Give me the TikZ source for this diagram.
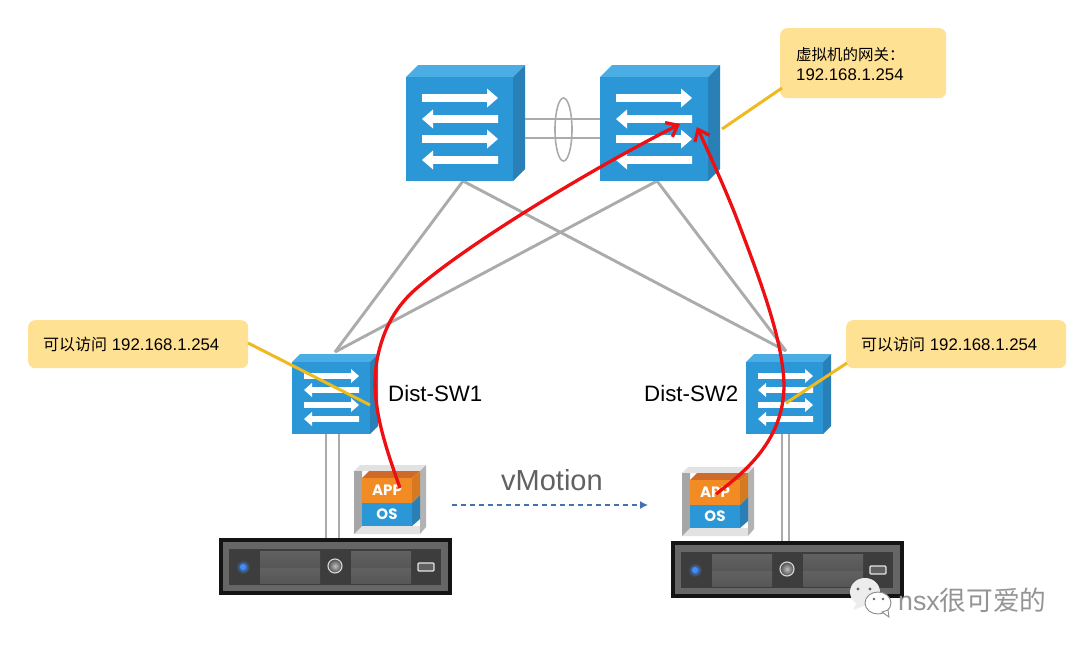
\documentclass[tikz,border=0pt]{standalone}
\usepackage{fontspec}
\setmainfont{Liberation Sans}
\newfontfamily\cjk{Noto Sans CJK SC}
\newfontfamily\vmfont{Poppins}
\usetikzlibrary{arrows.meta,calc,shapes.geometric}
\definecolor{swfront}{HTML}{2B97D6}
\definecolor{swtop}{HTML}{4AAEE4}
\definecolor{swside}{HTML}{2880B6}
\definecolor{linkgray}{HTML}{ABABAB}
\definecolor{calloutfill}{HTML}{FFE193}
\definecolor{calloutline}{HTML}{F0B91E}
\definecolor{flowred}{HTML}{EE0F12}
\definecolor{appfront}{HTML}{F28B24}
\definecolor{apptop}{HTML}{D06A2A}
\definecolor{frameside}{HTML}{A6A6A6}
\definecolor{frametop}{HTML}{E2E2E2}
\definecolor{movedash}{HTML}{4472B0}
\definecolor{ledblue}{HTML}{3F8CFF}
\tikzset{
 link/.style={draw=linkgray,line width=2.9pt},
 callout/.style={fill=calloutfill,rounded corners=7pt,inner sep=0pt,anchor=north west},
 calloutwire/.style={draw=calloutline,line width=3pt},
 flow/.style={draw=flowred,line width=3.3pt,-{Straight Barb[length=10pt,width=16pt,line width=3.3pt]}},
 swface/.style={fill=swfront,inner sep=0pt,outer sep=0pt,anchor=north west},
 lbl/.style={inner sep=0pt,anchor=west,text=black},
 vmtext/.style={inner sep=0pt,text=white,font=\vmfont\bfseries\fontsize{15}{15}\selectfont},
}
% right / left arrows: x1,x2,y,shaft half,head half,head length
\newcommand{\rarrow}[6]{\fill[white] (#1,{#3-#4}) -- ({#2-#6},{#3-#4}) -- ({#2-#6},{#3-#5}) -- (#2,#3) -- ({#2-#6},{#3+#5}) -- ({#2-#6},{#3+#4}) -- (#1,{#3+#4}) -- cycle;}
\newcommand{\larrow}[6]{\fill[white] (#2,{#3-#4}) -- ({#1+#6},{#3-#4}) -- ({#1+#6},{#3-#5}) -- (#1,#3) -- ({#1+#6},{#3+#5}) -- ({#1+#6},{#3+#4}) -- (#2,{#3+#4}) -- cycle;}
% name, x, y, w, h, depth
\newcommand{\switchbox}[6]{
 \fill[swtop] (#2,#3) -- ({#2+#6},{#3-#6}) -- ({#2+#4+#6},{#3-#6}) -- ({#2+#4},#3) -- cycle;
 \fill[swside] ({#2+#4},#3) -- ({#2+#4+#6},{#3-#6}) -- ({#2+#4+#6},{#3+#5-#6}) -- ({#2+#4},{#3+#5}) -- cycle;
 \node[swface,minimum width=#4pt,minimum height=#5pt] (#1) at (#2,#3) {};
}
\newcommand{\serverbox}[3]{% name, x, y
 \node[fill=black!92,inner sep=0pt,outer sep=0pt,anchor=north west,minimum width=233pt,minimum height=57pt] (#1) at (#2,#3) {};
 \begin{scope}[shift={(#2,#3)}]
  \fill[black!60] (4,4) rectangle (229,53);
  \fill[black!76] (10,11) rectangle (222,47);
  \shade[top color=black!62,bottom color=black!66] (41,13) rectangle (101,29);
  \shade[top color=black!62,bottom color=black!66] (41,30) rectangle (101,45);
  \shade[top color=black!62,bottom color=black!66] (132,13) rectangle (192,29);
  \shade[top color=black!62,bottom color=black!66] (132,30) rectangle (192,45);
  \shade[inner color=ledblue,outer color=black!76] (24,29) circle (7);
  \fill[ledblue] (24,29) circle (3);
  \shade[inner color=black!25,outer color=black!70] (116,28) circle (7);
  \draw[black!15,line width=1.1pt] (116,28) circle (7);
  \fill[black!62] (199,25) rectangle (215,33);
  \draw[black!10,line width=1.1pt,rounded corners=1pt] (199,25) rectangle (215,33);
 \end{scope}
}
\newcommand{\vmstack}[3]{% name, x, y of outer top-left
 \begin{scope}[shift={(#2,#3)}]
  \fill[frametop] (0,6) -- (6,0) -- (72,0) -- (66,6) -- (8,6) -- cycle;
  \fill[frametop] (0,69) -- (8,61) -- (66,61) -- (66,69) -- cycle;
  \fill[frameside] (0,6) -- (8,6) -- (8,61) -- (0,69) -- cycle;
  \fill[frameside!85!white] (66,6) -- (72,0) -- (72,62) -- (66,69) -- cycle;
  \fill[apptop] (8,13) -- (15,6) -- (66,6) -- (58,13) -- cycle;
  \fill[appfront!88!black] (58,13) -- (66,6) -- (66,30) -- (58,38) -- cycle;
  \fill[swside] (58,38) -- (66,30) -- (66,54) -- (58,61) -- cycle;
  \node[fill=appfront,inner sep=0pt,outer sep=0pt,anchor=north west,minimum width=50pt,minimum height=25pt] (#1app) at (8,13) {};
  \node[fill=swfront,inner sep=0pt,outer sep=0pt,anchor=north west,minimum width=50pt,minimum height=23pt] (#1os) at (8,38) {};
  \node[vmtext] at (#1app.center) {APP};
  \node[vmtext] at (#1os.center) {OS};
 \end{scope}
}
\begin{document}
\begin{tikzpicture}[x=1pt,y=-1pt]
\useasboundingbox (0,0) rectangle (1080,648);
\fill[white] (0,0) rectangle (1080,648);
% anchors for the connectors
\coordinate (coreLdown) at (463,181);
\coordinate (coreRdown) at (657,181);
\coordinate (dist1up) at (335,352);
\coordinate (dist2up) at (786,351);
% mesh links
\draw[link] (coreLdown) -- (dist1up);
\draw[link] (coreLdown) -- (dist2up);
\draw[link] (coreRdown) -- (dist1up);
\draw[link] (coreRdown) -- (dist2up);
% switches
\switchbox{coreL}{406}{77}{107}{104}{12}
\switchbox{coreR}{600}{77}{108}{104}{12}
\switchbox{distA}{292}{362}{78}{72}{8}
\switchbox{distB}{746}{362}{77}{72}{8}
\foreach \ox in {422,616}{
 \rarrow{\ox}{\ox+76}{98}{3.8}{9.5}{11}
 \larrow{\ox}{\ox+76}{119}{3.8}{9.5}{11}
 \rarrow{\ox}{\ox+76}{139}{3.8}{9.5}{11}
 \larrow{\ox}{\ox+76}{160}{3.8}{9.5}{11}
}
\foreach \ox in {304,758}{
 \rarrow{\ox}{\ox+55}{376}{2.8}{7}{8}
 \larrow{\ox}{\ox+55}{390}{2.8}{7}{8}
 \rarrow{\ox}{\ox+55}{405}{2.8}{7}{8}
 \larrow{\ox}{\ox+55}{419}{2.8}{7}{8}
}
% core peer link
\coordinate (peerAa) at (525,119);
\coordinate (peerAb) at (525,138);
\coordinate (peerBa) at (600,119);
\coordinate (peerBb) at (600,138);
\draw[link] (peerAa) -- (peerBa);
\draw[link] (peerAb) -- (peerBb);
\node[draw=linkgray,line width=1.6pt,ellipse,inner sep=0pt,minimum width=17pt,minimum height=63pt] (lag) at (563.5,129.5) {};
% servers and their uplinks
\serverbox{srvA}{219}{538}
\serverbox{srvB}{671}{541}
\foreach \ux in {326,339}{\draw[link] (\ux,434) -- (\ux,538);}
\foreach \ux in {782,789}{\draw[link] (\ux,434) -- (\ux,541);}
% VMs
\vmstack{vmA}{354}{465}
\vmstack{vmB}{682}{467}
% callouts
\node[callout,minimum width=166pt,minimum height=70pt] (noteTop) at (780,28) {};
\node[callout,minimum width=220pt,minimum height=48pt] (noteL) at (28,320) {};
\node[callout,minimum width=220pt,minimum height=48pt] (noteR) at (846,320) {};
\node[lbl,font=\fontsize{15.5}{15.5}\selectfont] at (796,55) {\cjk 虚拟机的网关：};
\node[lbl,font=\fontsize{16.8}{16.8}\selectfont] at (796,75) {192.168.1.254};
\node[lbl,font=\fontsize{16.8}{16.8}\selectfont] at (43,344) {{\cjk\fontsize{16}{16}\selectfont 可以访问} 192.168.1.254};
\node[lbl,font=\fontsize{16.8}{16.8}\selectfont] at (861,344) {{\cjk\fontsize{16}{16}\selectfont 可以访问} 192.168.1.254};
\coordinate (wireTopEnd) at (722,129);
\coordinate (wireTopStart) at (782,88);
\coordinate (wireLEnd) at (370,405);
\coordinate (wireLStart) at (248,343);
\coordinate (wireREnd) at (786,403);
\coordinate (wireRStart) at (847,363);
\draw[calloutwire] (wireTopStart) -- (wireTopEnd);
\draw[calloutwire] (wireLStart) -- (wireLEnd);
\draw[calloutwire] (wireRStart) -- (wireREnd);
% labels
\node[lbl,font=\fontsize{22.3}{22.3}\selectfont] (lblA) at (388,394) {Dist-SW1};
\node[lbl,font=\fontsize{22.3}{22.3}\selectfont] (lblB) at (644,394) {Dist-SW2};
\node[lbl,text=black!62,font=\fontsize{29}{29}\selectfont] (lblV) at (501,480) {vMotion};
% vMotion arrow
\coordinate (moveFrom) at (452,505);
\coordinate (moveTo) at (648,505);
\draw[draw=movedash,line width=1.2pt,dash pattern=on 5pt off 4pt,-{Latex[length=8pt,width=8pt]}] (moveFrom) -- (moveTo);
% traffic flows
\coordinate (flowAstart) at (400,488);
\coordinate (flowAend) at (680,124);
\coordinate (flowBstart) at (716,494);
\coordinate (flowBend) at (697,127);
\draw[flow] (flowAstart) .. controls (383,440) and (370,400) .. (377,360) .. controls (383,328) and (397,305) .. (417,288) .. controls (472,241) and (590,170) .. (flowAend);
\draw[flow] (flowBstart) .. controls (745,472) and (784,440) .. (784,385) .. controls (783,340) and (760,280) .. (740,227) .. controls (728,195) and (712,160) .. (flowBend);
% watermark
\begin{scope}
 \fill[black!7] (865,592) ellipse (15 and 14);
 \fill[black!7] (857,602) -- (853,610) -- (866,605) -- cycle;
 \fill[white,draw=black!45,line width=.9pt] (878,603) ellipse (13 and 11);
 \fill[white,draw=black!45,line width=.9pt] (882,612) -- (889,617) -- (888,610) -- cycle;
 \fill[black!60] (858,589) circle (1.6) (870,589) circle (1.6) (874,599) circle (1.4) (883,599) circle (1.4);
\end{scope}
\node[lbl,text=black!42,font=\fontsize{26.7}{26.7}\selectfont] (mark) at (898,600) {nsx{\cjk 很可爱的}};
\end{tikzpicture}
\end{document}
